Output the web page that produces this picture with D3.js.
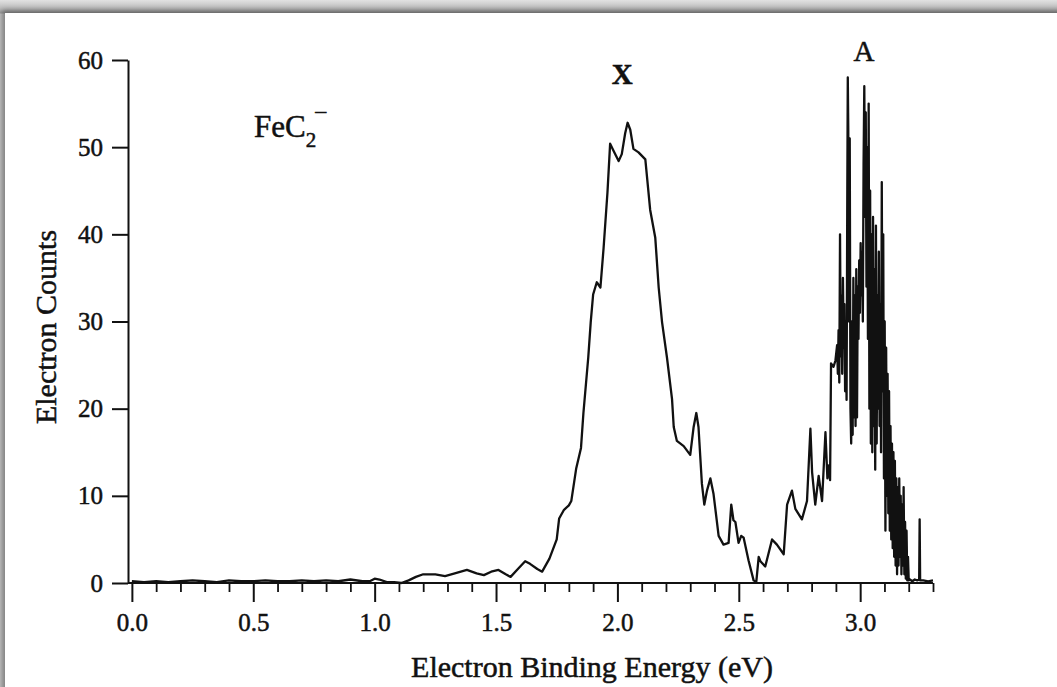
<!DOCTYPE html>
<html>
<head>
<meta charset="utf-8">
<script src="https://cdn.jsdelivr.net/npm/d3@7"></script>
<style>
  html, body { margin: 0; padding: 0; }
  body { width: 1057px; height: 687px; position: relative; overflow: hidden;
         background: linear-gradient(to bottom, #e2e2e2 0px, #b9b9b9 9px, #9c9c9c 13px, #c4c4c4 14px); }
  #card { position: absolute; left: 5px; top: 13px; width: 1100px; height: 700px; background: #fff;
          box-shadow: -2px -2px 5px 1px rgba(0,0,0,0.35); }
  svg { position: absolute; left: 0; top: 0; }
  text { font-family: "Liberation Serif", "Times New Roman", serif; fill: #111; }
</style>
</head>
<body>
<div id="card"></div>
<svg id="chart" width="1057" height="687"></svg>
<script>
// ---- data ----
const energy = [
  0.00,0.05,0.10,0.15,0.20,0.25,0.30,0.35,0.40,0.45,0.50,0.55,0.60,0.65,0.70,0.75,0.80,0.85,0.90,0.95,0.98,
  1.00,1.02,1.05,1.08,1.11,1.14,1.17,1.20,1.25,1.29,1.33,1.38,1.42,1.45,1.48,1.51,1.54,1.56,1.59,1.62,1.64,
  1.67,1.69,1.72,1.75,1.76,1.78,1.80,1.81,1.83,1.85,1.86,1.88,1.89,1.90,1.915,1.93,1.943,1.959,1.970,1.984,
  2.005,2.018,2.032,2.042,2.053,2.066,2.087,2.115,2.135,2.156,2.170,2.184,2.204,2.225,2.232,2.245,2.273,2.300,
  2.314,2.325,2.334,2.348,2.358,2.369,2.383,2.396,2.417,2.437,2.458,2.469,2.478,2.486,2.499,2.510,2.520,2.540,
  2.561,2.572,2.582,2.589,2.609,2.637,2.657,2.685,2.699,2.719,2.733,2.760,2.781,2.795,2.802,2.815,2.829,2.843,
  2.857,2.865,2.871,2.876,2.880,2.890,2.898,2.905,
  2.908,2.911,2.914,2.917,2.920,2.923,2.926,2.929,2.932,2.935,2.938,2.941,2.944,2.947,2.949,2.951,2.954,2.957,
  2.960,2.963,2.966,2.969,2.972,2.975,2.978,2.981,2.984,2.987,2.990,2.993,2.996,2.999,3.002,3.005,3.008,3.011,
  3.014,3.017,3.020,3.023,3.026,3.029,3.032,3.035,3.038,3.041,3.044,3.047,3.050,3.053,3.056,3.059,3.062,3.065,
  3.068,3.071,3.074,3.077,3.080,3.083,3.086,3.089,3.092,3.095,3.098,3.101,3.104,3.107,3.110,3.113,3.116,3.119,
  3.122,3.125,3.128,3.131,3.134,3.137,3.140,3.143,3.146,3.149,3.152,3.155,3.158,3.161,3.164,3.167,3.170,3.173,
  3.176,3.179,3.182,3.185,3.188,3.191,3.194,3.197,3.200,3.205,3.215,3.225,3.235,3.243,3.245,3.247,3.260,3.280,3.300
];
const counts = [
  0.2,0.1,0.2,0.1,0.2,0.3,0.2,0.1,0.3,0.2,0.2,0.3,0.2,0.2,0.3,0.2,0.3,0.2,0.4,0.2,0.2,
  0.5,0.4,0.1,0.1,0.0,0.3,0.7,1.0,1.0,0.8,1.1,1.5,1.1,0.9,1.3,1.5,1.0,0.7,1.6,2.5,2.2,
  1.6,1.3,2.8,5.0,7.4,8.4,8.9,9.4,13.1,15.5,19.5,25.9,29.9,33.1,34.5,33.9,38.4,44.8,50.4,49.6,
  48.4,49.2,51.6,52.8,52.0,49.8,49.4,48.6,42.8,39.6,33.9,29.9,25.9,21.1,17.9,16.3,15.7,14.7,
  17.9,19.5,17.9,11.4,9.0,10.6,12.0,10.2,5.4,4.4,4.6,9.0,7.2,7.0,4.6,5.4,5.2,2.6,
  0.3,0.1,3.0,2.5,1.9,5.0,4.4,3.3,9.0,10.6,8.5,7.3,9.4,17.7,12.7,9.0,12.3,9.4,
  17.3,12.0,13.5,11.8,25.2,24.8,25.5,27.3,
  24,29,23,40,26,33,24,35,27,32,22,30,21,45,58,52,30,51,
  20,16,30,17,35,19,33,18,36,19,34,28,37,31,39,33,38,30,
  48,57,42,54,34,50,28,55,20,45,16,40,15,42,18,36,13,41,
  16,33,20,38,18,32,15,46,22,40,12,30,6,27,10,24,8,22,
  6,18,5,16,4,15,3,14,2,12,1,11,2,12,3,10,1,9,
  2,11,1,7,0.5,6,0.3,3,0.3,0.4,0.2,0.4,0.3,0.4,7.3,0.3,0.3,0.2,0.3
];
const xMajorTicks = [0.0, 0.5, 1.0, 1.5, 2.0, 2.5, 3.0];
const xMinorTicks = [0.1,0.2,0.3,0.4,0.6,0.7,0.8,0.9,1.1,1.2,1.3,1.4,1.6,1.7,1.8,1.9,2.1,2.2,2.3,2.4,2.6,2.7,2.8,2.9,3.1,3.2,3.3];
const yTicks = [0, 10, 20, 30, 40, 50, 60];
const xTitle = "Electron Binding Energy (eV)";
const yTitle = "Electron Counts";
const peakLabels = [{e: 2.02, text: "X", bold: true, v: 57.2}, {e: 3.016, text: "A", bold: false, v: 59.9}];

// ---- drawing ----
const svg = d3.select("#chart");
const x = d3.scaleLinear().domain([-0.016, 3.30]).range([128, 933]);
const y = d3.scaleLinear().domain([0, 60]).range([583, 60]);
const heavy = sel => sel.attr("stroke", "#111").attr("stroke-width", 0.5);

// x axis: major ticks
const gx = svg.append("g").attr("transform", `translate(0,${y(0)})`);
gx.call(d3.axisBottom(x).tickValues(xMajorTicks).tickFormat(d3.format(".1f")).tickSize(19).tickPadding(11).tickSizeOuter(0));
gx.select(".domain").remove();
gx.selectAll(".tick line").attr("stroke", "#111").attr("stroke-width", 2);
gx.selectAll(".tick text").attr("font-size", 25).attr("font-family", "Liberation Serif, serif").attr("fill", "#111").call(heavy);
// minor ticks
const gxm = svg.append("g").attr("transform", `translate(0,${y(0)})`);
gxm.call(d3.axisBottom(x).tickValues(xMinorTicks).tickFormat("").tickSize(9).tickSizeOuter(0));
gxm.select(".domain").remove();
gxm.selectAll(".tick line").attr("stroke", "#111").attr("stroke-width", 1.8);
// x axis line
svg.append("line").attr("x1", x(-0.016)).attr("x2", x(3.30)).attr("y1", y(0)).attr("y2", y(0))
  .attr("stroke", "#111").attr("stroke-width", 2.2);

// y axis
const gy = svg.append("g").attr("transform", `translate(${x(-0.016)},0)`);
gy.call(d3.axisLeft(y).tickValues(yTicks).tickSize(16).tickPadding(9).tickSizeOuter(0));
gy.select(".domain").attr("stroke", "#111").attr("stroke-width", 2);
gy.selectAll(".tick line").attr("stroke", "#111").attr("stroke-width", 2);
gy.selectAll(".tick text").attr("font-size", 25).attr("font-family", "Liberation Serif, serif").attr("fill", "#111").call(heavy);

// spectrum line
const pts = energy.map((e, i) => [e, counts[i]]);
svg.append("path").datum(pts)
  .attr("fill", "none").attr("stroke", "#111").attr("stroke-width", 2.3).attr("stroke-linejoin", "round")
  .attr("d", d3.line().x(d => x(d[0])).y(d => y(d[1])));

// titles
svg.append("text").attr("x", 592).attr("y", 677).attr("text-anchor", "middle").attr("font-size", 30).call(heavy).text(xTitle);
svg.append("text").attr("transform", `translate(56,327) rotate(-90)`).attr("text-anchor", "middle")
  .attr("font-size", 30).call(heavy).text(yTitle);

// peak labels
peakLabels.forEach(p => {
  svg.append("text").attr("x", x(p.e)).attr("y", y(p.v)).attr("text-anchor", "middle")
    .attr("font-size", 29).attr("font-weight", p.bold ? "bold" : "normal").call(heavy).text(p.text);
});

// species label FeC2-
const sp = svg.append("text").attr("x", 254).attr("y", 137).attr("font-size", 31).call(heavy);
sp.append("tspan").text("FeC");
sp.append("tspan").attr("font-size", 21).attr("dy", 10).text("2");
sp.append("tspan").attr("font-size", 22).attr("dx", -1).attr("dy", -29).text("\u2013");
</script>
</body>
</html>
